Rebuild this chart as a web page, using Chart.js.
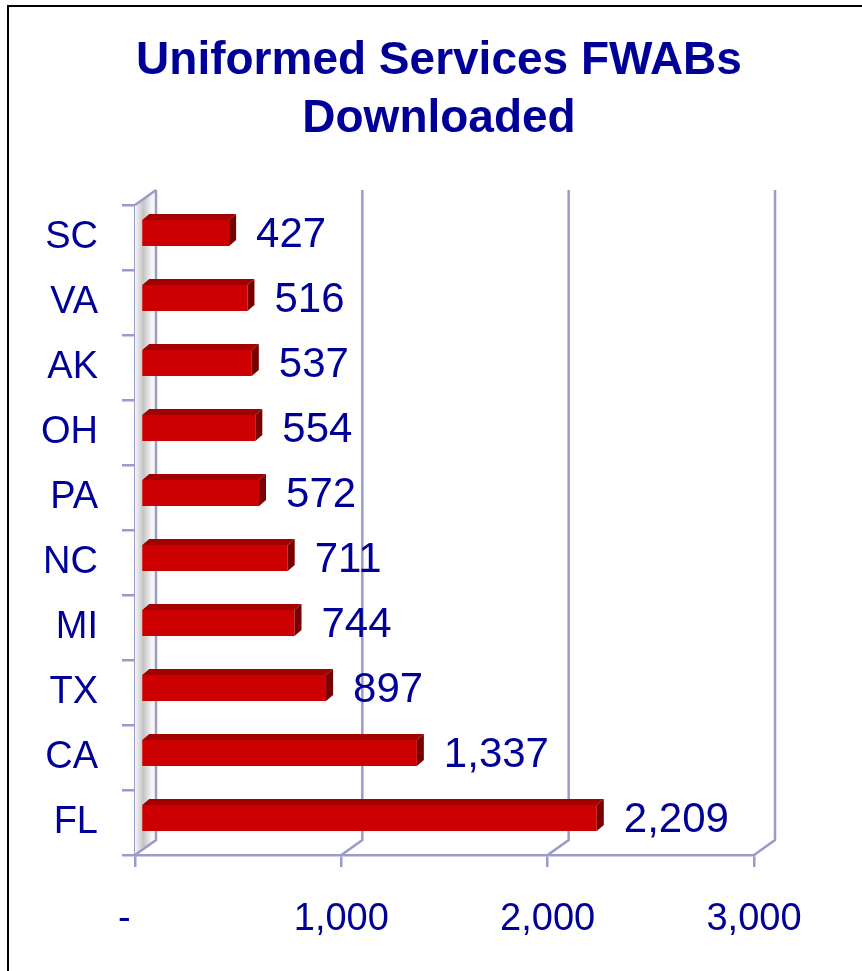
<!DOCTYPE html>
<html>
<head>
<meta charset="utf-8">
<script src="https://cdn.jsdelivr.net/npm/chart.js@4/dist/chart.umd.min.js"></script>
<style>
    body { margin: 0; background: #fff; }
    #wrap { position: relative; width: 862px; height: 971px; overflow: hidden; }
    #frame { position: absolute; left: 7px; top: 5px; width: 900px; height: 1000px;
             border-left: 2px solid #000; border-top: 2px solid #000; pointer-events: none; }
    canvas { position: absolute; left: 0; top: 0; }
</style>
</head>
<body>
<div id="wrap">
    <canvas id="chart" width="862" height="971"></canvas>
    <div id="frame"></div>
</div>
<script>
const states = ["SC", "VA", "AK", "OH", "PA", "NC", "MI", "TX", "CA", "FL"];
const downloads = [427, 516, 537, 554, 572, 711, 744, 897, 1337, 2209];
const xTicks = [0, 1000, 2000, 3000];

const NAVY = "#000099";
const AXIS = "#9b9bcb";
const FONT = "'Liberation Sans', Arial, sans-serif";

// depth of the back wall and where the bars sit in it
const DEPTH_X = 21, DEPTH_Y = -15;
const BAR_SHIFT_X = 6, BAR_SHIFT_Y = -4.5;
const BAR_DX = 7, BAR_DY = -6;

const wallPlugin = {
    id: "wall",
    beforeDatasetsDraw(chart) {
        const ctx = chart.ctx;
        const a = chart.chartArea;
        const x = chart.scales.x;

        // left side wall
        const grad = ctx.createLinearGradient(a.left, 0, a.left + DEPTH_X, 0);
        grad.addColorStop(0, "#f6f6f6");
        grad.addColorStop(0.4, "#c4c4c4");
        grad.addColorStop(0.75, "#f0f0f0");
        grad.addColorStop(1, "#ffffff");
        ctx.save();
        ctx.fillStyle = grad;
        ctx.beginPath();
        ctx.moveTo(a.left, a.top);
        ctx.lineTo(a.left + DEPTH_X, a.top + DEPTH_Y);
        ctx.lineTo(a.left + DEPTH_X, a.bottom + DEPTH_Y);
        ctx.lineTo(a.left, a.bottom);
        ctx.closePath();
        ctx.fill();

        ctx.strokeStyle = AXIS;
        ctx.lineWidth = 2.5;
        // back wall gridlines + floor diagonals
        xTicks.forEach(v => {
            const px = x.getPixelForValue(v);
            ctx.beginPath();
            ctx.moveTo(px, a.bottom);
            ctx.lineTo(px + DEPTH_X, a.bottom + DEPTH_Y);
            ctx.lineTo(px + DEPTH_X, a.top + DEPTH_Y);
            ctx.stroke();
        });
        // top edge of the side wall
        ctx.beginPath();
        ctx.moveTo(a.left, a.top);
        ctx.lineTo(a.left + DEPTH_X, a.top + DEPTH_Y);
        ctx.stroke();
        ctx.restore();
    },
    beforeDatasetDraw(chart) {
        chart.ctx.save();
        chart.ctx.translate(BAR_SHIFT_X, BAR_SHIFT_Y);
    },
    afterDatasetDraw(chart) {
        chart.ctx.restore();
    },
    afterDatasetsDraw(chart) {
        const ctx = chart.ctx;
        const meta = chart.getDatasetMeta(0);
        ctx.save();
        meta.data.forEach((bar, i) => {
            const p = bar.getProps(["x", "y", "base", "height"], true);
            const left = p.base + BAR_SHIFT_X;
            const right = p.x + BAR_SHIFT_X;
            const top = p.y - p.height / 2 + BAR_SHIFT_Y;
            const bottom = p.y + p.height / 2 + BAR_SHIFT_Y;

            ctx.fillStyle = "#a30000";
            ctx.beginPath();
            ctx.moveTo(left, top);
            ctx.lineTo(right, top);
            ctx.lineTo(right + BAR_DX, top + BAR_DY);
            ctx.lineTo(left + BAR_DX, top + BAR_DY);
            ctx.closePath();
            ctx.fill();

            ctx.fillStyle = "#7a0000";
            ctx.beginPath();
            ctx.moveTo(right, top);
            ctx.lineTo(right + BAR_DX, top + BAR_DY);
            ctx.lineTo(right + BAR_DX, bottom + BAR_DY);
            ctx.lineTo(right, bottom);
            ctx.closePath();
            ctx.fill();

            // value label
            ctx.fillStyle = NAVY;
            ctx.font = "42px " + FONT;
            ctx.textAlign = "left";
            ctx.textBaseline = "middle";
            ctx.fillText(downloads[i].toLocaleString("en-US"), right + BAR_DX + 20, p.y - 2);
        });
        ctx.restore();
    }
};

new Chart(document.getElementById("chart"), {
    type: "bar",
    data: {
        labels: states,
        datasets: [{
            data: downloads,
            backgroundColor: "#cc0000",
            borderWidth: 0,
            categoryPercentage: 1,
            barPercentage: 0.4,
            clip: false
        }]
    },
    options: {
        indexAxis: "y",
        responsive: false,
        animation: false,
        layout: { padding: { left: 16, right: 0, top: 0, bottom: 0 } },
        plugins: {
            legend: { display: false },
            tooltip: { enabled: false },
            title: {
                display: true,
                text: ["Uniformed Services FWABs", "Downloaded"],
                color: NAVY,
                font: { family: FONT, size: 46, weight: "bold", lineHeight: 1.25 },
                padding: { top: 33, bottom: 57 }
            }
        },
        scales: {
            x: {
                min: 0,
                max: 3000,
                afterFit: s => { s.height = 116; },
                afterBuildTicks: s => { s.ticks = xTicks.map(v => ({ value: v })); },
                ticks: {
                    color: NAVY,
                    font: { family: FONT, size: 38 },
                    padding: 30,
                    maxRotation: 0,
                    callback: v => v === 0 ? "-  " : v.toLocaleString("en-US")
                },
                grid: { drawOnChartArea: false, drawTicks: true, tickLength: 12, color: AXIS, lineWidth: 2.5 },
                border: { display: true, color: AXIS, width: 2.5 }
            },
            y: {
                afterFit: s => { s.width = 119; },
                ticks: {
                    color: NAVY,
                    font: { family: FONT, size: 38 },
                    padding: 24
                },
                grid: { drawOnChartArea: false, drawTicks: true, tickLength: 13, color: AXIS, lineWidth: 2.5 },
                border: { display: true, color: AXIS, width: 2.5 }
            },
            // empty right-hand box so the plot ends at 3,000 where the reference does
            yRight: {
                axis: "y",
                position: "right",
                afterFit: s => { s.width = 108; },
                ticks: { display: false },
                grid: { display: false },
                border: { display: false }
            }
        }
    },
    plugins: [wallPlugin]
});
</script>
</body>
</html>
